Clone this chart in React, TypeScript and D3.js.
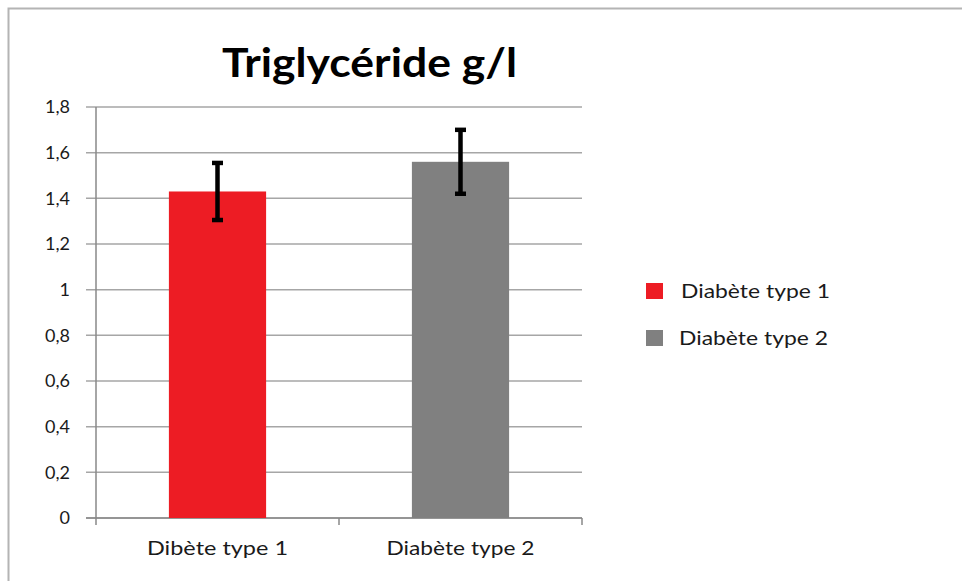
import React from "react";
import * as d3 from "d3";

const categories = ["Dibète type 1", "Diabète type 2"];
const seriesNames = ["Diabète type 1", "Diabète type 2"];
const values = [1.43, 1.56];
const errors = [0.125, 0.14];
const colors = ["#ed1c24", "#808080"];
const yTicks = [0, 0.2, 0.4, 0.6, 0.8, 1, 1.2, 1.4, 1.6, 1.8];

const W = 962;
const H = 581;
const font = "Lato, 'Open Sans', sans-serif";

const App = () => {
  const left = 96;
  const right = 582;
  const top = 107;
  const bottom = 518;

  const x = d3.scaleBand().domain(categories).range([left, right]).padding(0);
  const y = d3.scaleLinear().domain([0, 1.8]).range([bottom, top]);
  const barW = x.bandwidth() * 0.4;
  const fmt = (v: number) => String(v).replace(".", ",");

  return (
    <div style={{ position: "absolute", left: 0, top: 0 }}>
      <svg width={W} height={H} style={{ display: "block", background: "#fff" }}>
        {/* chart frame */}
        <path d={`M8.5,${H} V8.5 H${W}`} fill="none" stroke="#b4b4b4" strokeWidth={2} />

        <text x={222} y={77} textLength={295} lengthAdjust="spacingAndGlyphs"
          fontFamily={font} fontWeight="bold" fontSize={40} fill="#000">
          Triglycéride g/l
        </text>

        {/* gridlines + y ticks */}
        {yTicks.map(t => (
          <g key={t}>
            <line x1={left - 10} x2={right} y1={y(t)} y2={y(t)} stroke="#a6a6a6" strokeWidth={1.5} />
            <text x={70} y={y(t)} dy="0.35em" textAnchor="end" fontFamily={font} fontSize={18} fill="#1a1a1a">
              {fmt(t)}
            </text>
          </g>
        ))}

        {/* y axis */}
        <line x1={left} x2={left} y1={top} y2={bottom} stroke="#888" strokeWidth={1.5} />
        {/* x axis */}
        <line x1={left - 10} x2={right} y1={bottom} y2={bottom} stroke="#888" strokeWidth={1.5} />
        {[left, ...categories.map(c => (x(c) as number) + x.bandwidth())].map((tx, i) => (
          <line key={i} x1={tx} x2={tx} y1={bottom} y2={bottom + 7} stroke="#888" strokeWidth={1.5} />
        ))}

        {categories.map((c, i) => {
          const cx = (x(c) as number) + x.bandwidth() / 2;
          const hi = y(values[i] + errors[i]);
          const lo = y(values[i] - errors[i]);
          return (
            <g key={c}>
              <rect x={cx - barW / 2} y={y(values[i])} width={barW} height={bottom - y(values[i])} fill={colors[i]} />
              <line x1={cx} x2={cx} y1={hi} y2={lo} stroke="#000" strokeWidth={4.5} />
              <line x1={cx - 5.5} x2={cx + 5.5} y1={hi} y2={hi} stroke="#000" strokeWidth={4.5} />
              <line x1={cx - 5.5} x2={cx + 5.5} y1={lo} y2={lo} stroke="#000" strokeWidth={4.5} />
              <text x={cx} y={555} textAnchor="middle" textLength={i === 0 ? 141 : 148}
                lengthAdjust="spacingAndGlyphs" fontFamily={font} fontSize={19} fill="#1a1a1a">
                {c}
              </text>
            </g>
          );
        })}

        {/* legend */}
        {seriesNames.map((s, i) => (
          <g key={s} transform={`translate(646, ${283 + i * 47})`}>
            <rect x={0} y={0} width={17} height={16} fill={colors[i]} />
            <text x={35 - i * 2} y={8} dy="0.35em" textLength={149} lengthAdjust="spacingAndGlyphs"
              fontFamily={font} fontSize={19} fill="#1a1a1a">
              {s}
            </text>
          </g>
        ))}
      </svg>
    </div>
  );
};

export default App;
